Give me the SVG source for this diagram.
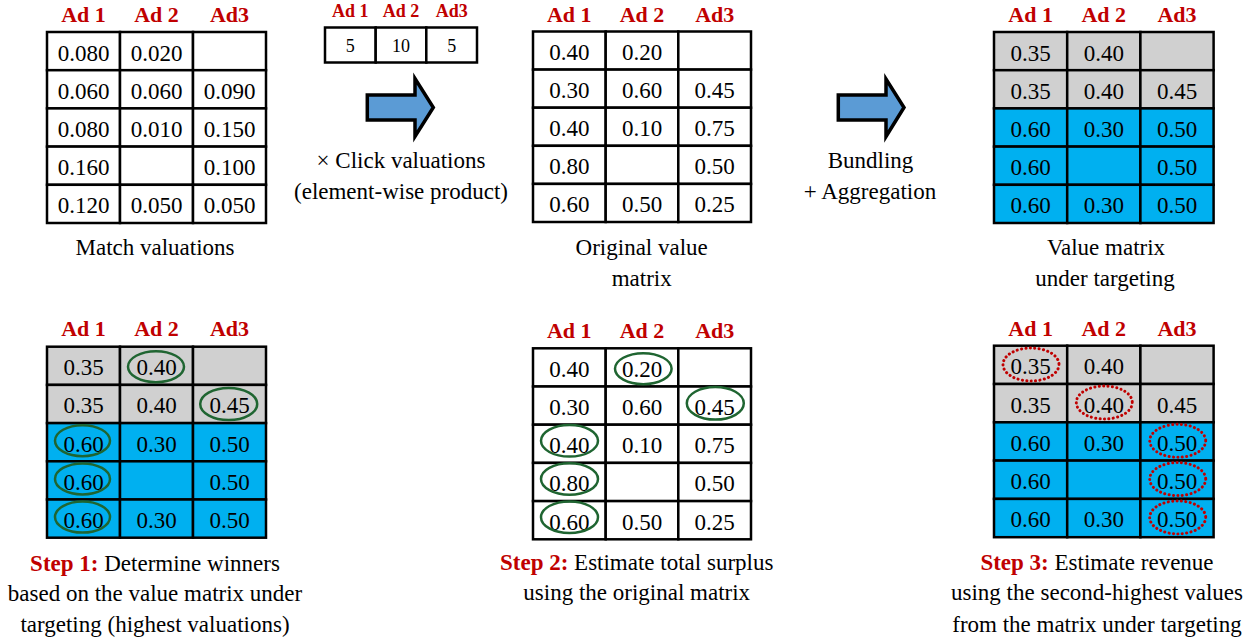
<svg xmlns="http://www.w3.org/2000/svg" width="1256" height="642" viewBox="0 0 1256 642">
<style>
text{font-family:"Liberation Serif","Times New Roman",serif;font-size:23px;fill:#000;text-anchor:middle}
.h{font-weight:bold;fill:#C00000;font-size:22px}
.hs{font-weight:bold;fill:#C00000;font-size:18px}
.vs{font-size:18px}
.st{font-weight:bold;fill:#C00000}
.cell{stroke:#000;stroke-width:2.5}
.w{fill:#fff}.g{fill:#D0D0D0}.b{fill:#00B0F0}
.ge{fill:none;stroke:#1F6531;stroke-width:2.5}
.re{fill:none;stroke:#C00000;stroke-width:3;stroke-dasharray:0.1 4.3;stroke-linecap:round}
.arr{fill:#5B9BD5;stroke:#000;stroke-width:3.5;stroke-linejoin:miter}
</style>
<rect width="1256" height="642" fill="#fff"/>

<g id="match-valuations">
<text class="h" x="83.5" y="22">Ad 1</text><text class="h" x="156.5" y="22">Ad 2</text><text class="h" x="229.5" y="22">Ad3</text>
<g class="cell w">
<rect x="47" y="32" width="73" height="38.2"/><rect x="120" y="32" width="73" height="38.2"/><rect x="193" y="32" width="73" height="38.2"/>
<rect x="47" y="70.2" width="73" height="38.2"/><rect x="120" y="70.2" width="73" height="38.2"/><rect x="193" y="70.2" width="73" height="38.2"/>
<rect x="47" y="108.4" width="73" height="38.2"/><rect x="120" y="108.4" width="73" height="38.2"/><rect x="193" y="108.4" width="73" height="38.2"/>
<rect x="47" y="146.6" width="73" height="38.2"/><rect x="120" y="146.6" width="73" height="38.2"/><rect x="193" y="146.6" width="73" height="38.2"/>
<rect x="47" y="184.8" width="73" height="38.2"/><rect x="120" y="184.8" width="73" height="38.2"/><rect x="193" y="184.8" width="73" height="38.2"/>
</g>
<text x="83.5" y="60.5">0.080</text><text x="156.5" y="60.5">0.020</text>
<text x="83.5" y="98.7">0.060</text><text x="156.5" y="98.7">0.060</text><text x="229.5" y="98.7">0.090</text>
<text x="83.5" y="136.9">0.080</text><text x="156.5" y="136.9">0.010</text><text x="229.5" y="136.9">0.150</text>
<text x="83.5" y="175.1">0.160</text><text x="229.5" y="175.1">0.100</text>
<text x="83.5" y="213.3">0.120</text><text x="156.5" y="213.3">0.050</text><text x="229.5" y="213.3">0.050</text>
<text x="155" y="255">Match valuations</text>
</g>

<g id="click-valuations">
<text class="hs" x="350.3" y="17">Ad 1</text><text class="hs" x="401" y="17">Ad 2</text><text class="hs" x="451.7" y="17">Ad3</text>
<g class="cell w">
<rect x="325" y="27.5" width="50.7" height="35"/><rect x="375.7" y="27.5" width="50.6" height="35"/><rect x="426.3" y="27.5" width="50.7" height="35"/>
</g>
<text class="vs" x="350.3" y="52">5</text><text class="vs" x="401" y="52">10</text><text class="vs" x="451.7" y="52">5</text>
</g>

<g id="original-value-matrix">
<text class="h" x="569.3" y="21.5">Ad 1</text><text class="h" x="642" y="21.5">Ad 2</text><text class="h" x="714.7" y="21.5">Ad3</text>
<g class="cell w">
<rect x="533" y="31.5" width="72.7" height="38.1"/><rect x="605.7" y="31.5" width="72.6" height="38.1"/><rect x="678.3" y="31.5" width="72.7" height="38.1"/>
<rect x="533" y="69.6" width="72.7" height="38.1"/><rect x="605.7" y="69.6" width="72.6" height="38.1"/><rect x="678.3" y="69.6" width="72.7" height="38.1"/>
<rect x="533" y="107.7" width="72.7" height="38.1"/><rect x="605.7" y="107.7" width="72.6" height="38.1"/><rect x="678.3" y="107.7" width="72.7" height="38.1"/>
<rect x="533" y="145.8" width="72.7" height="38.1"/><rect x="605.7" y="145.8" width="72.6" height="38.1"/><rect x="678.3" y="145.8" width="72.7" height="38.1"/>
<rect x="533" y="183.9" width="72.7" height="38.1"/><rect x="605.7" y="183.9" width="72.6" height="38.1"/><rect x="678.3" y="183.9" width="72.7" height="38.1"/>
</g>
<text x="569.3" y="60">0.40</text><text x="642" y="60">0.20</text>
<text x="569.3" y="98.1">0.30</text><text x="642" y="98.1">0.60</text><text x="714.7" y="98.1">0.45</text>
<text x="569.3" y="136.2">0.40</text><text x="642" y="136.2">0.10</text><text x="714.7" y="136.2">0.75</text>
<text x="569.3" y="174.3">0.80</text><text x="714.7" y="174.3">0.50</text>
<text x="569.3" y="212.4">0.60</text><text x="642" y="212.4">0.50</text><text x="714.7" y="212.4">0.25</text>
<text x="641.7" y="255">Original value</text><text x="641.7" y="286">matrix</text>
</g>

<g id="targeting-value-matrix">
<text class="h" x="1030.6" y="22">Ad 1</text><text class="h" x="1103.8" y="22">Ad 2</text><text class="h" x="1177" y="22">Ad3</text>
<g class="cell">
<rect class="g" x="994" y="32" width="73.2" height="38.2"/><rect class="g" x="1067.2" y="32" width="73.2" height="38.2"/><rect class="g" x="1140.4" y="32" width="73.2" height="38.2"/>
<rect class="g" x="994" y="70.2" width="73.2" height="38.2"/><rect class="g" x="1067.2" y="70.2" width="73.2" height="38.2"/><rect class="g" x="1140.4" y="70.2" width="73.2" height="38.2"/>
<rect class="b" x="994" y="108.4" width="73.2" height="38.2"/><rect class="b" x="1067.2" y="108.4" width="73.2" height="38.2"/><rect class="b" x="1140.4" y="108.4" width="73.2" height="38.2"/>
<rect class="b" x="994" y="146.6" width="73.2" height="38.2"/><rect class="b" x="1067.2" y="146.6" width="73.2" height="38.2"/><rect class="b" x="1140.4" y="146.6" width="73.2" height="38.2"/>
<rect class="b" x="994" y="184.8" width="73.2" height="38.2"/><rect class="b" x="1067.2" y="184.8" width="73.2" height="38.2"/><rect class="b" x="1140.4" y="184.8" width="73.2" height="38.2"/>
</g>
<text x="1030.6" y="60.5">0.35</text><text x="1103.8" y="60.5">0.40</text>
<text x="1030.6" y="98.7">0.35</text><text x="1103.8" y="98.7">0.40</text><text x="1177" y="98.7">0.45</text>
<text x="1030.6" y="136.9">0.60</text><text x="1103.8" y="136.9">0.30</text><text x="1177" y="136.9">0.50</text>
<text x="1030.6" y="175.1">0.60</text><text x="1177" y="175.1">0.50</text>
<text x="1030.6" y="213.3">0.60</text><text x="1103.8" y="213.3">0.30</text><text x="1177" y="213.3">0.50</text>
<text x="1106" y="255">Value matrix</text><text x="1105" y="286">under targeting</text>
</g>

<g id="step1">
<text class="h" x="83.5" y="336">Ad 1</text><text class="h" x="156.5" y="336">Ad 2</text><text class="h" x="229.5" y="336">Ad3</text>
<g class="cell">
<rect class="g" x="47" y="346.7" width="73" height="38.2"/><rect class="g" x="120" y="346.7" width="73" height="38.2"/><rect class="g" x="193" y="346.7" width="73" height="38.2"/>
<rect class="g" x="47" y="384.9" width="73" height="38.2"/><rect class="g" x="120" y="384.9" width="73" height="38.2"/><rect class="g" x="193" y="384.9" width="73" height="38.2"/>
<rect class="b" x="47" y="423.1" width="73" height="38.2"/><rect class="b" x="120" y="423.1" width="73" height="38.2"/><rect class="b" x="193" y="423.1" width="73" height="38.2"/>
<rect class="b" x="47" y="461.3" width="73" height="38.2"/><rect class="b" x="120" y="461.3" width="73" height="38.2"/><rect class="b" x="193" y="461.3" width="73" height="38.2"/>
<rect class="b" x="47" y="499.5" width="73" height="38.2"/><rect class="b" x="120" y="499.5" width="73" height="38.2"/><rect class="b" x="193" y="499.5" width="73" height="38.2"/>
</g>
<text x="83.5" y="375.2">0.35</text><text x="156.5" y="375.2">0.40</text>
<text x="83.5" y="413.4">0.35</text><text x="156.5" y="413.4">0.40</text><text x="229.5" y="413.4">0.45</text>
<text x="83.5" y="451.6">0.60</text><text x="156.5" y="451.6">0.30</text><text x="229.5" y="451.6">0.50</text>
<text x="83.5" y="489.8">0.60</text><text x="229.5" y="489.8">0.50</text>
<text x="83.5" y="528">0.60</text><text x="156.5" y="528">0.30</text><text x="229.5" y="528">0.50</text>
<ellipse class="ge" cx="156" cy="366.7" rx="28" ry="15.5"/>
<ellipse class="ge" cx="228.7" cy="404" rx="28.5" ry="16"/>
<ellipse class="ge" cx="82.5" cy="440.7" rx="27.5" ry="15.5"/>
<ellipse class="ge" cx="82.5" cy="478.9" rx="27.5" ry="15.5"/>
<ellipse class="ge" cx="82.5" cy="517.1" rx="27.5" ry="15.5"/>
<text x="155" y="570.5"><tspan class="st">Step 1:</tspan> Determine winners</text>
<text x="155" y="601">based on the value matrix under</text>
<text x="155" y="631.5">targeting (highest valuations)</text>
</g>

<g id="step2">
<text class="h" x="569.3" y="337.5">Ad 1</text><text class="h" x="642" y="337.5">Ad 2</text><text class="h" x="714.7" y="337.5">Ad3</text>
<g class="cell w">
<rect x="533" y="348.3" width="72.7" height="38.2"/><rect x="605.7" y="348.3" width="72.6" height="38.2"/><rect x="678.3" y="348.3" width="72.7" height="38.2"/>
<rect x="533" y="386.5" width="72.7" height="38.2"/><rect x="605.7" y="386.5" width="72.6" height="38.2"/><rect x="678.3" y="386.5" width="72.7" height="38.2"/>
<rect x="533" y="424.7" width="72.7" height="38.2"/><rect x="605.7" y="424.7" width="72.6" height="38.2"/><rect x="678.3" y="424.7" width="72.7" height="38.2"/>
<rect x="533" y="462.9" width="72.7" height="38.2"/><rect x="605.7" y="462.9" width="72.6" height="38.2"/><rect x="678.3" y="462.9" width="72.7" height="38.2"/>
<rect x="533" y="501.1" width="72.7" height="38.2"/><rect x="605.7" y="501.1" width="72.6" height="38.2"/><rect x="678.3" y="501.1" width="72.7" height="38.2"/>
</g>
<text x="569.3" y="376.8">0.40</text><text x="642" y="376.8">0.20</text>
<text x="569.3" y="415">0.30</text><text x="642" y="415">0.60</text><text x="714.7" y="415">0.45</text>
<text x="569.3" y="453.2">0.40</text><text x="642" y="453.2">0.10</text><text x="714.7" y="453.2">0.75</text>
<text x="569.3" y="491.4">0.80</text><text x="714.7" y="491.4">0.50</text>
<text x="569.3" y="529.6">0.60</text><text x="642" y="529.6">0.50</text><text x="714.7" y="529.6">0.25</text>
<ellipse class="ge" cx="643.3" cy="368.7" rx="28.3" ry="15.5"/>
<ellipse class="ge" cx="715.3" cy="403.3" rx="28.5" ry="16.3"/>
<ellipse class="ge" cx="569.5" cy="440.8" rx="28.5" ry="15.8"/>
<ellipse class="ge" cx="569.5" cy="479" rx="28.5" ry="15.8"/>
<ellipse class="ge" cx="569.5" cy="517.2" rx="28.5" ry="15.8"/>
<text x="636.7" y="570"><tspan class="st">Step 2:</tspan> Estimate total surplus</text>
<text x="636.7" y="600">using the original matrix</text>
</g>

<g id="step3">
<text class="h" x="1030.6" y="336">Ad 1</text><text class="h" x="1103.8" y="336">Ad 2</text><text class="h" x="1177" y="336">Ad3</text>
<g class="cell">
<rect class="g" x="994" y="345.7" width="73.2" height="38.3"/><rect class="g" x="1067.2" y="345.7" width="73.2" height="38.3"/><rect class="g" x="1140.4" y="345.7" width="73.2" height="38.3"/>
<rect class="g" x="994" y="384" width="73.2" height="38.3"/><rect class="g" x="1067.2" y="384" width="73.2" height="38.3"/><rect class="g" x="1140.4" y="384" width="73.2" height="38.3"/>
<rect class="b" x="994" y="422.3" width="73.2" height="38.3"/><rect class="b" x="1067.2" y="422.3" width="73.2" height="38.3"/><rect class="b" x="1140.4" y="422.3" width="73.2" height="38.3"/>
<rect class="b" x="994" y="460.6" width="73.2" height="38.3"/><rect class="b" x="1067.2" y="460.6" width="73.2" height="38.3"/><rect class="b" x="1140.4" y="460.6" width="73.2" height="38.3"/>
<rect class="b" x="994" y="498.9" width="73.2" height="38.3"/><rect class="b" x="1067.2" y="498.9" width="73.2" height="38.3"/><rect class="b" x="1140.4" y="498.9" width="73.2" height="38.3"/>
</g>
<text x="1030.6" y="374.2">0.35</text><text x="1103.8" y="374.2">0.40</text>
<text x="1030.6" y="412.5">0.35</text><text x="1103.8" y="412.5">0.40</text><text x="1177" y="412.5">0.45</text>
<text x="1030.6" y="450.8">0.60</text><text x="1103.8" y="450.8">0.30</text><text x="1177" y="450.8">0.50</text>
<text x="1030.6" y="489.1">0.60</text><text x="1177" y="489.1">0.50</text>
<text x="1030.6" y="527.4">0.60</text><text x="1103.8" y="527.4">0.30</text><text x="1177" y="527.4">0.50</text>
<ellipse class="re" cx="1031" cy="364.5" rx="28" ry="16.5"/>
<ellipse class="re" cx="1104.3" cy="402.5" rx="28" ry="16.5"/>
<ellipse class="re" cx="1177.7" cy="440.8" rx="28" ry="16.5"/>
<ellipse class="re" cx="1177.7" cy="479.1" rx="28" ry="16.5"/>
<ellipse class="re" cx="1177.7" cy="517.4" rx="28" ry="16.5"/>
<text x="1097" y="570"><tspan class="st">Step 3:</tspan> Estimate revenue</text>
<text x="1097" y="600">using the second-highest values</text>
<text x="1097" y="631.5">from the matrix under targeting</text>
</g>

<g id="connectors">
<polygon class="arr" points="367.3,95 415,95 415,78.5 433.3,107.5 415,136.5 415,120 367.3,120"/>
<text x="401" y="168">× Click valuations</text>
<text x="401" y="199">(element-wise product)</text>
<polygon class="arr" points="838.3,95 886,95 886,79 904,107.5 886,136.5 886,120 838.3,120"/>
<text x="870.5" y="168">Bundling</text>
<text x="870" y="199">+ Aggregation</text>
</g>
</svg>
